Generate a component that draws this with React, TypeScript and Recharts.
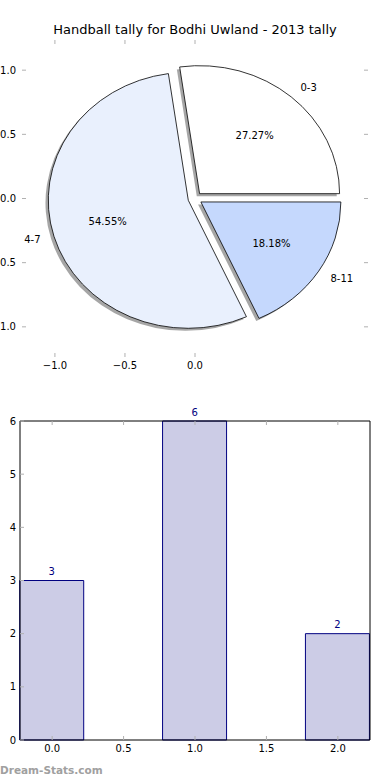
import React from "react";
import {
  PieChart,
  Pie,
  Cell,
  Sector,
  ScatterChart,
  BarChart,
  Bar,
  XAxis,
  YAxis,
  LabelList,
} from "recharts";

const sliceNames = ["0-3", "4-7", "8-11"];
const sliceValues = [3, 6, 2];
const sliceColors = ["#ffffff", "#e9f0fd", "#c5d8fd"];

const barX = [0, 1, 2];
const barValues = [3, 6, 2];

const pieTicksX = [-1, -0.5, 0];
const pieTicksY = [-1, -0.5, 0, 0.5, 1];
const barTicksX = [0, 0.5, 1, 1.5, 2];
const barTicksY = [0, 1, 2, 3, 4, 5, 6];

const pieData = sliceNames.map((name, i) => ({ name, value: sliceValues[i] }));
const barData = barX.map((x, i) => ({ x, count: barValues[i] }));

// pie geometry (matplotlib draws it slightly squashed here)
const RY = 128;
const RX = 140;
const EXPLODE = 0.05;
const FONT = "'DejaVu Sans', sans-serif";
const TICK = "#b0b0b0";

const fmt = (v: number) => {
  const s = Math.abs(v).toFixed(1);
  return v < 0 ? "\u2212" + s : s;
};

const wedge = (shadow: boolean) => (props: any) => {
  const { cx, cy, midAngle } = props;
  const a = (midAngle * Math.PI) / 180;
  let dx = EXPLODE * RX * Math.cos(a);
  let dy = -EXPLODE * RY * Math.sin(a);
  if (shadow) {
    dx -= 0.02 * RX;
    dy += 0.02 * RY;
  }
  const t = `translate(${cx + dx} ${cy + dy}) scale(${RX / RY} 1) translate(${-cx} ${-cy})`;
  return (
    <g transform={t}>
      <Sector {...props} vectorEffect="non-scaling-stroke" />
    </g>
  );
};

const pieLabel = (props: any) => {
  const { cx, cy, midAngle, percent, name } = props;
  const a = (midAngle * Math.PI) / 180;
  const c = Math.cos(a);
  const s = Math.sin(a);
  const ex = EXPLODE * c;
  const ey = EXPLODE * s;
  const lx = cx + RX * (ex + 1.1 * c);
  const ly = cy - RY * (ey + 1.1 * s);
  const px = cx + RX * (ex + 0.6 * c);
  const py = cy - RY * (ey + 0.6 * s);
  return (
    <g>
      <text x={lx} y={ly} dy={3.5} textAnchor={c > 0 ? "start" : "end"} fontSize={10} fontFamily={FONT} fill="#000">
        {name}
      </text>
      <text x={px} y={py} dy={3.5} textAnchor="middle" fontSize={10} fontFamily={FONT} fill="#000">
        {(percent * 100).toFixed(2) + "%"}
      </text>
    </g>
  );
};

// inward tick marks, matplotlib style
const BottomTick = ({ x, y, payload }: any) => (
  <g>
    <line x1={x} x2={x} y1={y} y2={y - 4} stroke={TICK} />
    <text x={x} y={y + 12} textAnchor="middle" fontSize={10} fontFamily={FONT} fill="#000">
      {fmt(payload.value)}
    </text>
  </g>
);
const TopTick = ({ x, y }: any) => <line x1={x} x2={x} y1={y} y2={y + 4} stroke={TICK} />;
const LeftTick = ({ x, y, payload, plain, gap }: any) => (
  <g>
    <line x1={x} x2={x + 4} y1={y} y2={y} stroke={TICK} />
    <text x={x - gap} y={y + 3.5} textAnchor="end" fontSize={10} fontFamily={FONT} fill="#000">
      {plain ? String(payload.value) : fmt(payload.value)}
    </text>
  </g>
);
const RightTick = ({ x, y }: any) => <line x1={x} x2={x - 4} y1={y} y2={y} stroke={TICK} />;

const BarValue = (props: any) => {
  const { x, y, width, value } = props;
  return (
    <text x={x + width / 2} y={y - 5.5} textAnchor="middle" fontSize={10} fontFamily={FONT} fill="#000080">
      {value}
    </text>
  );
};

const pieAxis = {
  type: "number" as const,
  domain: [-1.235, 1.235],
  allowDataOverflow: true,
  axisLine: false,
  tickLine: false,
  tickSize: 0,
  tickMargin: 0,
  interval: 0 as const,
};

export default function App() {
  return (
    <div style={{ position: "absolute", left: 0, top: 0, width: 390, height: 780, background: "#fff" }}>
      <div style={{ position: "absolute", left: 0, top: 0 }}>
        <ScatterChart width={390} height={390} margin={{ top: 0, right: 0, bottom: 0, left: 0 }}>
          <XAxis xAxisId="b" dataKey="x" ticks={pieTicksX} height={33} tick={<BottomTick />} {...pieAxis} />
          <XAxis xAxisId="t" orientation="top" dataKey="x" ticks={pieTicksX} height={40} tick={<TopTick />} {...pieAxis} />
          <YAxis yAxisId="l" dataKey="y" ticks={pieTicksY} width={22} tick={<LeftTick gap={6} />} {...pieAxis} />
          <YAxis yAxisId="r" orientation="right" dataKey="y" ticks={pieTicksY} width={22} tick={<RightTick />} {...pieAxis} />
        </ScatterChart>
      </div>
      <div style={{ position: "absolute", left: 0, top: 0 }}>
        <PieChart width={390} height={390} margin={{ top: 0, right: 0, bottom: 0, left: 0 }}>
          <text x={195} y={34} textAnchor="middle" fontSize={13} fontFamily={FONT} fill="#000">
            Handball tally for Bodhi Uwland - 2013 tally
          </text>
          <Pie
            data={pieData}
            dataKey="value"
            nameKey="name"
            cx={195}
            cy={198.5}
            outerRadius={RY}
            startAngle={0}
            endAngle={360}
            stroke="none"
            fill="rgba(77,77,77,0.5)"
            shape={wedge(true)}
            isAnimationActive={false}
          />
          <Pie
            data={pieData}
            dataKey="value"
            nameKey="name"
            cx={195}
            cy={198.5}
            outerRadius={RY}
            startAngle={0}
            endAngle={360}
            stroke="#000"
            strokeWidth={0.8}
            shape={wedge(false)}
            label={pieLabel}
            labelLine={false}
            isAnimationActive={false}
          >
            {pieData.map((d, i) => (
              <Cell key={d.name} fill={sliceColors[i]} />
            ))}
          </Pie>
        </PieChart>
      </div>
      <div style={{ position: "absolute", left: 0, top: 400 }}>
        <BarChart width={390} height={380} data={barData} margin={{ top: 0, right: 0, bottom: 0, left: 0 }} barSize={64}>
          <XAxis xAxisId="b" type="number" dataKey="x" domain={[-0.225, 2.225]} ticks={barTicksX} stroke="#000" tickLine={false} tickSize={0} tickMargin={0} height={40} tick={<BottomTick />} interval={0} />
          <XAxis xAxisId="t" orientation="top" type="number" dataKey="x" domain={[-0.225, 2.225]} ticks={barTicksX} stroke="#000" tickLine={false} tickSize={0} tickMargin={0} height={21} tick={<TopTick />} interval={0} />
          <YAxis yAxisId="l" type="number" domain={[0, 6]} ticks={barTicksY} stroke="#000" tickLine={false} tickSize={0} tickMargin={0} width={20} tick={<LeftTick gap={4} plain />} interval={0} />
          <YAxis yAxisId="r" orientation="right" type="number" domain={[0, 6]} ticks={barTicksY} stroke="#000" tickLine={false} tickSize={0} tickMargin={0} width={20} tick={<RightTick />} interval={0} />
          <Bar dataKey="count" xAxisId="b" yAxisId="l" fill="#ccccE6" stroke="#000080" strokeWidth={1} isAnimationActive={false}>
            <LabelList dataKey="count" content={<BarValue />} />
          </Bar>
        </BarChart>
      </div>
      <div
        style={{
          position: "absolute",
          left: 0,
          top: 762,
          fontFamily: FONT,
          fontWeight: "bold",
          fontSize: 10.5,
          color: "#a0a0a0",
          lineHeight: "16px",
        }}
      >
        Dream-Stats.com
      </div>
    </div>
  );
}
